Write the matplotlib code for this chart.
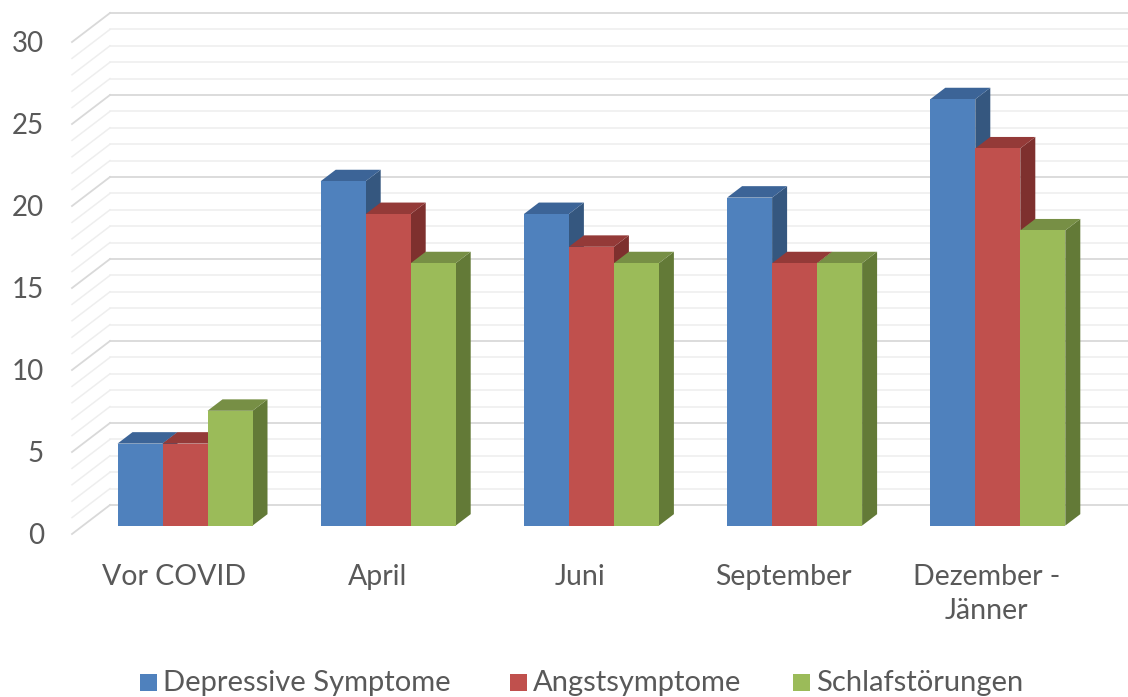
import numpy as np
import matplotlib
matplotlib.use("Agg")
from matplotlib import pyplot as plt
from matplotlib.patches import Polygon, Rectangle

categories = ["Vor COVID", "April", "Juni", "September", "Dezember -\nJänner"]
series_names = ["Depressive Symptome", "Angstsymptome", "Schlafstörungen"]
depressive = [5, 21, 19, 20, 26]
angst = [5, 19, 17, 16, 23]
schlaf = [7, 16, 16, 16, 18]
y_ticks = [0, 5, 10, 15, 20, 25, 30]

front_colors = ["#4F81BD", "#C0504D", "#9BBB59"]
top_colors = ["#3C6497", "#943A38", "#778F45"]
side_colors = ["#35577F", "#7E302E", "#637A37"]
text_color = "#595959"

W, H = 1128, 697
PX_X = 203.2   # pixels per category
PX_Y = 16.4    # pixels per value unit
DX = 38 / PX_X  # depth offset of the back wall
DY = 29 / PX_Y
Z0, Z1 = 11 / 38, 26 / 38  # depth range of the bars
BAR_W = 45 / PX_X

plt.rcParams['font.family'] = ['Lato', 'DejaVu Sans']

fig = plt.figure(figsize=(W / 100, H / 100), dpi=100)
ax = fig.add_axes([0, 0, 1, 1])
ax.set_xlim(-174 / PX_X, (W - 174) / PX_X)
ax.set_ylim(-(H - 534) / PX_Y, 534 / PX_Y)
ax.axis('off')

wall_x = (72 - 174) / PX_X
right_x = 10

# gridlines: left wall diagonals and back wall
for v in range(0, 31):
    major = v % 5 == 0
    col = "#D9D9D9" if major else "#EEEEEE"
    lw = 1.3 if major else 1.1
    ax.plot([wall_x, wall_x + DX], [v, v + DY], color=col, lw=lw, zorder=1 if not major else 2)
    ax.plot([wall_x + DX, right_x], [v + DY, v + DY], color=col, lw=lw, zorder=1 if not major else 2)

series = [depressive, angst, schlaf]
for i in range(len(categories)):
    for s, vals in enumerate(series):
        v = vals[i]
        x0 = i + (s - 1.5) * BAR_W
        fx, fy = x0 + Z0 * DX, Z0 * DY
        bx, by = x0 + Z1 * DX, Z1 * DY
        z = 10 + i * 10 + s * 3
        ax.add_patch(Rectangle((fx, fy), BAR_W, v, facecolor=front_colors[s],
                               edgecolor='none', zorder=z + 2))
        ax.add_patch(Polygon([(fx, fy + v), (fx + BAR_W, fy + v), (bx + BAR_W, by + v), (bx, by + v)],
                             closed=True, facecolor=top_colors[s], edgecolor='none', zorder=z + 1))
        ax.add_patch(Polygon([(fx + BAR_W, fy), (fx + BAR_W, fy + v), (bx + BAR_W, by + v), (bx + BAR_W, by)],
                             closed=True, facecolor=side_colors[s], edgecolor='none', zorder=z))

# value labels on the front of the left wall
for t in y_ticks:
    ax.text((44 - 174) / PX_X, t - 0.12, str(t), ha='right', va='center',
            fontsize=20, color=text_color)

for i, cat in enumerate(categories):
    ax.text(i, -1.8, cat, ha='center', va='top', fontsize=20.5, color=text_color,
            linespacing=1.4)

# legend
legend_x = [140, 510, 793]
for s, name in enumerate(series_names):
    fig.patches.append(Rectangle((legend_x[s] / W, (H - 691) / H), 17 / W, 17 / H,
                                 transform=fig.transFigure, facecolor=front_colors[s],
                                 edgecolor='none'))
    fig.text((legend_x[s] + 23) / W, 1 - 683 / H, name, ha='left', va='center',
             fontsize=21, color=text_color)

fig.savefig("out.png", dpi=100)
